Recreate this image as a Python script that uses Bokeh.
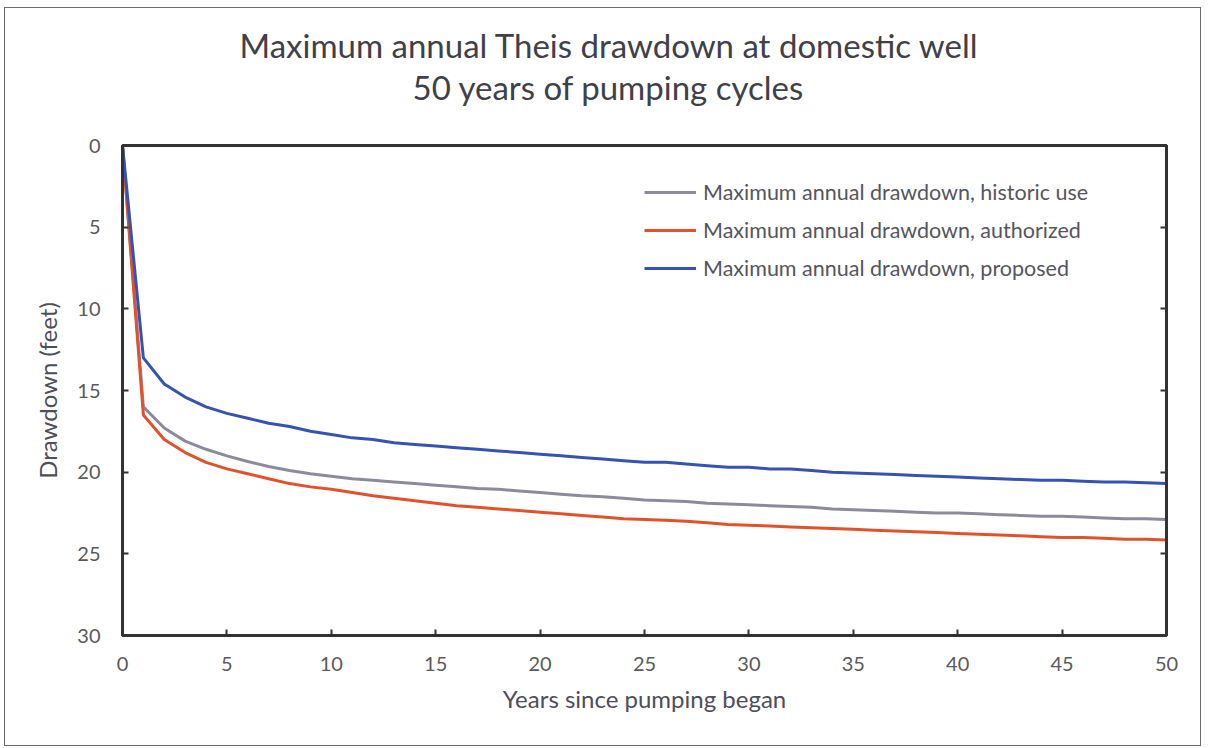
from bokeh.plotting import figure
from bokeh.models import Range1d, LinearAxis, Legend, LegendItem, Title, FixedTicker
from bokeh.embed import file_html
from bokeh.resources import INLINE

years = list(range(0, 51))
historic = [0, 16.0, 17.3, 18.1, 18.6, 19.0, 19.35, 19.65, 19.9, 20.1, 20.25,
            20.4, 20.5, 20.6, 20.7, 20.8, 20.9, 21.0, 21.05, 21.15, 21.25,
            21.35, 21.45, 21.5, 21.6, 21.7, 21.75, 21.8, 21.9, 21.95, 22.0,
            22.05, 22.1, 22.15, 22.25, 22.3, 22.35, 22.4, 22.45, 22.5, 22.5,
            22.55, 22.6, 22.65, 22.7, 22.7, 22.75, 22.8, 22.85, 22.85, 22.9]
authorized = [0, 16.5, 18.0, 18.8, 19.4, 19.8, 20.1, 20.4, 20.7, 20.9, 21.05,
              21.25, 21.45, 21.6, 21.75, 21.9, 22.05, 22.15, 22.25, 22.35, 22.45,
              22.55, 22.65, 22.75, 22.85, 22.9, 22.95, 23.0, 23.1, 23.2, 23.25,
              23.3, 23.35, 23.4, 23.45, 23.5, 23.55, 23.6, 23.65, 23.7, 23.75,
              23.8, 23.85, 23.9, 23.95, 24.0, 24.0, 24.05, 24.1, 24.1, 24.15]
proposed = [0, 13.0, 14.6, 15.4, 16.0, 16.4, 16.7, 17.0, 17.2, 17.5, 17.7,
            17.9, 18.0, 18.2, 18.3, 18.4, 18.5, 18.6, 18.7, 18.8, 18.9,
            19.0, 19.1, 19.2, 19.3, 19.4, 19.4, 19.5, 19.6, 19.7, 19.7,
            19.8, 19.8, 19.9, 20.0, 20.05, 20.1, 20.15, 20.2, 20.25, 20.3,
            20.35, 20.4, 20.45, 20.5, 20.5, 20.55, 20.6, 20.6, 20.65, 20.7]

series_names = ["Maximum annual drawdown, historic use",
                "Maximum annual drawdown, authorized",
                "Maximum annual drawdown, proposed"]
series_colors = ["#8e8a9c", "#e2522a", "#3653b3"]
x_ticks = [0, 5, 10, 15, 20, 25, 30, 35, 40, 45, 50]
y_ticks = [0, 5, 10, 15, 20, 25, 30]
title_line1 = "Maximum annual Theis drawdown at domestic well"
title_line2 = "50 years of pumping cycles"

FONT = "Lato"
AXIS_COLOR = "#333333"
TEXT_COLOR = "#5a5a5a"

p = figure(width=1197, height=739, output_backend="svg", toolbar_location=None,
           x_range=Range1d(0, 50), y_range=Range1d(30, 0),
           min_border_left=117, min_border_right=36, min_border_top=137,
           min_border_bottom=112)
p.styles = {"border": "1px solid #6b6b78", "margin-left": "4px", "margin-top": "7px"}
p.background_fill_color = "white"
p.border_fill_color = "white"
p.xgrid.visible = False
p.ygrid.visible = False
p.outline_line_color = AXIS_COLOR
p.outline_line_width = 3

for ax in (p.xaxis[0], p.yaxis[0]):
    ax.axis_line_color = AXIS_COLOR
    ax.axis_line_width = 3
    ax.major_tick_line_color = AXIS_COLOR
    ax.major_tick_line_width = 2
    ax.major_tick_in = 6
    ax.major_tick_out = 0
    ax.minor_tick_line_color = None
    ax.major_label_text_font = FONT
    ax.major_label_text_font_size = "20px"
    ax.major_label_text_color = TEXT_COLOR
    ax.axis_label_text_font = FONT
    ax.axis_label_text_font_size = "24px"
    ax.axis_label_text_font_style = "normal"
    ax.axis_label_text_color = "#4d4d5c"

p.xaxis[0].ticker = FixedTicker(ticks=x_ticks)
p.yaxis[0].ticker = FixedTicker(ticks=y_ticks)
p.xaxis[0].axis_label = "Years since pumping began"
p.yaxis[0].axis_label = "Drawdown (feet)"
p.xaxis[0].major_label_standoff = 21
p.xaxis[0].axis_label_standoff = 10
p.yaxis[0].major_label_standoff = 22
p.yaxis[0].axis_label_standoff = 12

right_axis = LinearAxis(ticker=FixedTicker(ticks=y_ticks[1:-1]))
right_axis.axis_line_color = AXIS_COLOR
right_axis.axis_line_width = 3
right_axis.major_tick_line_color = AXIS_COLOR
right_axis.major_tick_line_width = 2
right_axis.major_tick_in = 6
right_axis.major_tick_out = 0
right_axis.minor_tick_line_color = None
right_axis.major_label_text_font_size = "0px"
right_axis.major_label_text_alpha = 0
p.add_layout(right_axis, "right")

renderers = []
for vals, col in zip([historic, authorized, proposed], series_colors):
    r = p.line(years, vals, line_color=col, line_width=3)
    renderers.append(r)

legend = Legend(items=[LegendItem(label=n, renderers=[r]) for n, r in zip(series_names, renderers)],
                location=(522, 354), padding=0, spacing=12, glyph_width=52,
                glyph_height=26, label_height=26, label_standoff=7,
                label_text_font=FONT, label_text_font_size="21.5px",
                label_text_color="#555560", border_line_alpha=0,
                background_fill_alpha=0)
p.add_layout(legend, "center")

# spacer between frame and the title block
p.add_layout(Title(text=" ", standoff=36, text_font_size="1px"), "above")
# subtitle line (closer to the frame), then the main line above it
p.add_layout(Title(text=title_line2, align="left", offset=290, standoff=0,
                   text_font=FONT, text_font_size="33px", text_font_style="normal",
                   text_color="#404048"), "above")
p.add_layout(Title(text=title_line1, align="left", offset=117, standoff=0,
                   text_font=FONT, text_font_size="33px", text_font_style="normal",
                   text_color="#404048"), "above")

open("out.html", "w").write(file_html(p, INLINE))
